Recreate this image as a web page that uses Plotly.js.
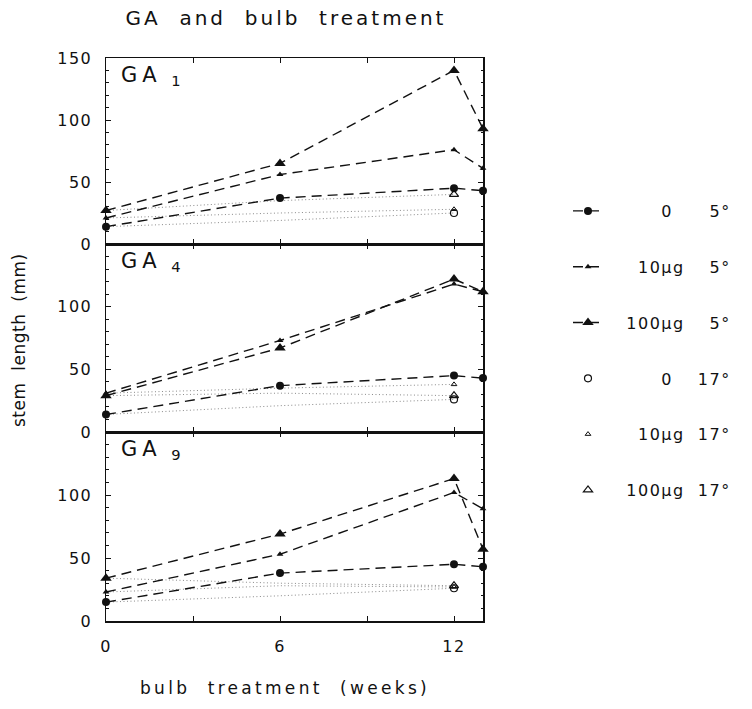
<!DOCTYPE html>
<html><head><meta charset="utf-8">
<script src="https://cdn.plot.ly/plotly-3.0.1.min.js"></script>
<style>
body{margin:0;background:#fff}
text{letter-spacing:1.5px}
text.gtitle{letter-spacing:3px}
text[data-unformatted^="bulb"]{letter-spacing:3.3px}
text[data-unformatted^="stem"]{letter-spacing:0.5px}
text[data-unformatted^="GA<sub>"]{letter-spacing:5px}
</style></head><body>
<div id="chart" style="width:752px;height:709px"></div>
<script>
// ---------------- data ----------------
const weeks5 = [0, 6, 12, 13];     // 5 degree series sampling (weeks)
const weeks17 = [0, 6, 12];        // 17 degree series sampling (weeks)
const panelNames = ['GA1', 'GA4', 'GA9'];
const panelLabels = ['GA<sub>\u00a01</sub>', 'GA<sub>\u00a04</sub>', 'GA<sub>\u00a09</sub>'];
const seriesNames = ['0 5°', '10µg 5°', '100µg 5°', '0 17°', '10µg 17°', '100µg 17°'];
const legendTexts = [
  '\u2007\u00a0\u2007\u2007\u20070\u2007\u00a0\u00a0\u20075°',
  '\u2007\u00a0\u200710µg\u00a0\u00a0\u20075°',
  '\u2007\u00a0100µg\u00a0\u00a0\u20075°',
  '\u2007\u00a0\u2007\u2007\u20070\u2007\u00a0\u00a017°',
  '\u2007\u00a0\u200710µg\u00a0\u00a017°',
  '\u2007\u00a0100µg\u00a0\u00a017°'
];
const yTickVals = [[0, 50, 100, 150], [0, 50, 100], [0, 50, 100]];
const xTickVals = [0, 6, 12];
const xMinorTickVals = [3, 9];

// GA1
const ga1_0_5    = [14, 37, 45, 43];
const ga1_10_5   = [21, 56, 76, 61];
const ga1_100_5  = [27, 65, 140, 93];
const ga1_0_17   = [14, 19, 25];
const ga1_10_17  = [21, 25, 28];
const ga1_100_17 = [27, 35, 40];
// GA4
const ga4_0_5    = [14, 37, 45, 43];
const ga4_10_5   = [31, 73, 118, 112];
const ga4_100_5  = [29, 67, 122, 112];
const ga4_0_17   = [14, 21, 26];
const ga4_10_17  = [31, 35, 38];
const ga4_100_17 = [29, 31, 29];
// GA9
const ga9_0_5    = [15, 38, 45, 43];
const ga9_10_5   = [23, 53, 102, 89];
const ga9_100_5  = [34, 69, 113, 57];
const ga9_0_17   = [15, 20, 26];
const ga9_10_17  = [23, 28, 27];
const ga9_100_17 = [34, 30, 28];

const panelData = [
  [ga1_0_5, ga1_10_5, ga1_100_5, ga1_0_17, ga1_10_17, ga1_100_17],
  [ga4_0_5, ga4_10_5, ga4_100_5, ga4_0_17, ga4_10_17, ga4_100_17],
  [ga9_0_5, ga9_10_5, ga9_100_5, ga9_0_17, ga9_10_17, ga9_100_17]
];

// ---------------- styles ----------------
const FONT = 'DejaVu Sans';
const INK = '#111';
const markerStyles = [
  {symbol: 'circle', size: 8, color: INK},
  {symbol: 'triangle-up', size: 6, color: INK},
  {symbol: 'triangle-up', size: 10, color: INK},
  {symbol: 'circle-open', size: 7, color: INK, line: {width: 1.2, color: INK}},
  {symbol: 'triangle-up-open', size: 5, color: INK, line: {width: 1, color: INK}},
  {symbol: 'triangle-up-open', size: 8, color: INK, line: {width: 1.2, color: INK}}
];
const dashLine = {color: INK, width: 1.4, dash: '10px,6px'};
const dotLine = {color: '#8a8a8a', width: 1, dash: '1px,2.5px'};

// ---------------- traces ----------------
const traces = [];
panelData.forEach((series, p) => {
  const ax = p + 1;
  const xa = ax === 1 ? 'x' : 'x' + ax;
  const ya = ax === 1 ? 'y' : 'y' + ax;
  for (let s = 3; s < 6; s++) {
    traces.push({
      type: 'scatter', mode: 'lines', x: weeks17, y: series[s],
      xaxis: xa, yaxis: ya, line: dotLine, showlegend: false,
      hoverinfo: 'skip', cliponaxis: false
    });
  }
  for (let s = 0; s < 3; s++) {
    traces.push({
      type: 'scatter', mode: 'lines+markers', x: weeks5, y: series[s],
      xaxis: xa, yaxis: ya, line: dashLine, marker: markerStyles[s],
      name: legendTexts[s], legendgroup: seriesNames[s], legendrank: s + 1,
      showlegend: p === 0, cliponaxis: false
    });
  }
  for (let s = 3; s < 6; s++) {
    const n = weeks17.length - 1;
    traces.push({
      type: 'scatter', mode: 'markers', x: [weeks17[n]], y: [series[s][n]],
      xaxis: xa, yaxis: ya, marker: markerStyles[s],
      name: legendTexts[s], legendgroup: seriesNames[s], legendrank: s + 1,
      showlegend: p === 0, cliponaxis: false
    });
  }
});

// ---------------- layout ----------------
const W = 752, H = 709;
const M = {l: 106, r: 269, t: 58, b: 88};
const plotH = H - M.t - M.b;
const pxToPaperY = py => (H - M.b - py) / plotH;
const pxToPaperX = px => (px - M.l) / (W - M.l - M.r);
const bounds = [58, 244, 432, 621];

const baseX = {
  range: [0, 13], tickvals: xTickVals,
  ticks: 'inside', ticklen: 5, tickwidth: 1, tickcolor: INK,
  minor: {tickvals: xMinorTickVals, ticks: 'inside', ticklen: 5, tickwidth: 1, tickcolor: INK, showgrid: false},
  showline: true, linecolor: INK, linewidth: 1.5, mirror: 'allticks',
  showgrid: false, zeroline: false, fixedrange: true,
  tickfont: {family: FONT, size: 16, color: INK}, ticklabelstandoff: 10
};
const layout = {
  width: W, height: H, margin: M,
  paper_bgcolor: '#fff', plot_bgcolor: '#fff',
  font: {family: FONT, color: INK},
  showlegend: true,
  title: {
    text: 'GA\u00a0 and\u00a0 bulb\u00a0 treatment',
    font: {family: FONT, size: 20, color: INK},
    x: 286 / W, xanchor: 'center', y: 1 - 18 / H, yanchor: 'middle'
  },
  legend: {
    x: pxToPaperX(568), xanchor: 'left', y: pxToPaperY(194), yanchor: 'top',
    font: {family: FONT, size: 16, color: INK},
    tracegroupgap: 32, bgcolor: 'rgba(0,0,0,0)', borderwidth: 0,
    traceorder: 'grouped', itemwidth: 30
  },
  annotations: [],
  hovermode: false
};
for (let p = 0; p < 3; p++) {
  const ax = p + 1;
  const xk = ax === 1 ? 'xaxis' : 'xaxis' + ax;
  const yk = ax === 1 ? 'yaxis' : 'yaxis' + ax;
  const xa = ax === 1 ? 'x' : 'x' + ax;
  const ya = ax === 1 ? 'y' : 'y' + ax;
  layout[xk] = Object.assign({}, baseX, {
    anchor: ya, showticklabels: p === 2
  });
  if (p > 0) layout[xk].matches = 'x';
  layout[yk] = {
    domain: [pxToPaperY(bounds[p + 1]), pxToPaperY(bounds[p])],
    anchor: xa, range: [0, 150], tickvals: yTickVals[p],
    ticks: 'inside', ticklen: 5, tickwidth: 1, tickcolor: INK,
    minor: {dtick: 10, ticks: 'inside', ticklen: 2.5, tickcolor: INK, showgrid: false},
    showline: true, linecolor: INK, linewidth: 1.5, mirror: 'allticks',
    showgrid: false, zeroline: false, fixedrange: true,
    tickfont: {family: FONT, size: 16, color: INK}, ticklabelstandoff: 9
  };
  layout.annotations.push({
    text: panelLabels[p], xref: xa + ' domain', yref: ya + ' domain',
    x: 0.035, y: 0.985, xanchor: 'left', yanchor: 'top', showarrow: false,
    font: {family: FONT, size: 21, color: INK}
  });
}
layout.annotations.push({
  text: 'stem\u00a0 length\u00a0 (mm)', xref: 'paper', yref: 'paper',
  x: pxToPaperX(19), y: pxToPaperY(340), xanchor: 'center', yanchor: 'middle',
  textangle: -90, showarrow: false, font: {family: FONT, size: 17, color: INK}
});
layout.annotations.push({
  text: 'bulb\u00a0 treatment\u00a0 (weeks)', xref: 'paper', yref: 'paper',
  x: pxToPaperX(285), y: pxToPaperY(688), xanchor: 'center', yanchor: 'middle',
  showarrow: false, font: {family: FONT, size: 17, color: INK}
});

Plotly.newPlot('chart', traces, layout, {displayModeBar: false, staticPlot: true}).then(gd => {
  gd.querySelectorAll('text').forEach(t => { if (!t.textContent.trim()) t.remove(); });
});
</script>
</body></html>
